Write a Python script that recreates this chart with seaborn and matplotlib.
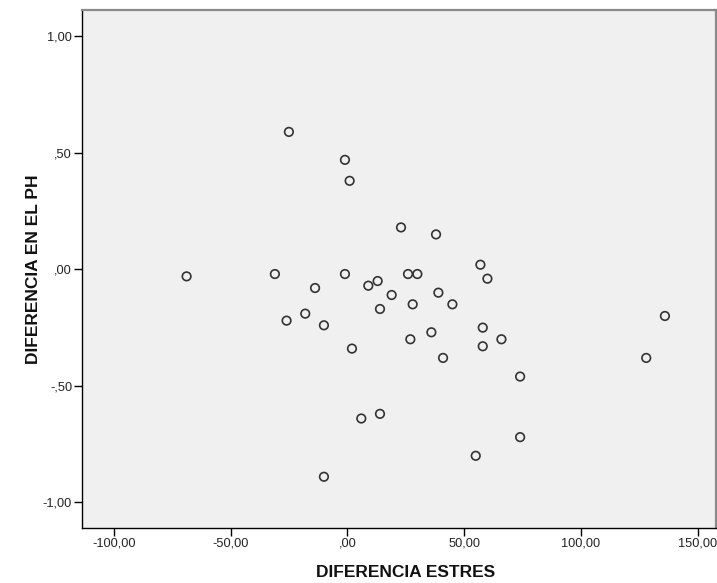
import matplotlib
matplotlib.use("Agg")
import matplotlib.pyplot as plt
import seaborn as sns
import pandas as pd

# Data
diferencia_estres = [-68.8, -25.0, -31.0, -13.8, -18.0, -26.0, -10.0, -1.0, 1.0, -1.0,
                     2.0, 6.0, -10.0, 9.0, 13.0, 14.0, 14.0, 19.0, 23.0, 26.0,
                     30.0, 28.0, 27.0, 36.0, 38.0, 39.0, 41.0, 45.0, 57.0, 60.0,
                     58.0, 58.0, 66.0, 74.0, 74.0, 55.0, 128.0, 136.0]
diferencia_ph = [-0.03, 0.59, -0.02, -0.08, -0.19, -0.22, -0.24, 0.47, 0.38, -0.02,
                 -0.34, -0.64, -0.89, -0.07, -0.05, -0.17, -0.62, -0.11, 0.18, -0.02,
                 -0.02, -0.15, -0.30, -0.27, 0.15, -0.10, -0.38, -0.15, 0.02, -0.04,
                 -0.25, -0.33, -0.30, -0.46, -0.72, -0.80, -0.38, -0.20]

x_ticks = [-100, -50, 0, 50, 100, 150]
x_tick_labels = ["-100,00", "-50,00", ",00", "50,00", "100,00", "150,00"]
y_ticks = [1.0, 0.5, 0.0, -0.5, -1.0]
y_tick_labels = ["1,00", ",50", ",00", "-,50", "-1,00"]

df = pd.DataFrame({"DIFERENCIA ESTRES": diferencia_estres,
                   "DIFERENCIA EN EL PH": diferencia_ph})

sns.set_theme(style="white")
plt.rcParams["font.family"] = ["Liberation Sans", "DejaVu Sans"]

fig = plt.figure(figsize=(7.17, 5.83), dpi=100)
ax = fig.add_axes([0.114, 0.0943, 0.8847, 0.8885])
ax.set_facecolor("#f0f0f0")

sns.scatterplot(data=df, x="DIFERENCIA ESTRES", y="DIFERENCIA EN EL PH", ax=ax,
                marker="o", s=38, facecolor="none", edgecolor="#333333",
                linewidth=1.2, legend=False)

ax.set_xlim(-113.7, 157.9)
ax.set_ylim(-1.11, 1.113)
ax.set_xticks(x_ticks)
ax.set_xticklabels(x_tick_labels)
ax.set_yticks(y_ticks)
ax.set_yticklabels(y_tick_labels)

ax.tick_params(axis="both", which="major", direction="out", length=5.5, width=1,
               color="black", labelsize=9.2, labelcolor="#222222", pad=1.5,
               bottom=True, left=True)

for side in ["left", "bottom"]:
    ax.spines[side].set_color("black")
    ax.spines[side].set_linewidth(1.0)
for side in ["top", "right"]:
    ax.spines[side].set_color("#8a8a8a")
    ax.spines[side].set_linewidth(1.6)

ax.set_xlabel("DIFERENCIA ESTRES", fontsize=12.5, fontweight="bold", color="#111111")
ax.set_ylabel("DIFERENCIA EN EL PH", fontsize=12.5, fontweight="bold", color="#111111")
ax.xaxis.set_label_coords(0.511, -0.085)
ax.xaxis.label.set_va("center")
ax.yaxis.set_label_coords(-0.0768, 0.5)
ax.yaxis.label.set_va("center")

fig.savefig("out.png", dpi=100, facecolor="white")
